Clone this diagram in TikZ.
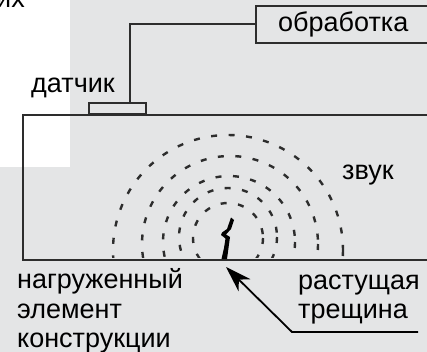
\documentclass[tikz,border=0pt]{standalone}
\usepackage{fontspec}
\setmainfont{Liberation Sans}
\usetikzlibrary{arrows.meta}
\definecolor{bg}{RGB}{228,229,230}
\definecolor{ink}{RGB}{45,45,45}
\begin{document}
\begin{tikzpicture}[x=1pt,y=-1pt,
  outline/.style={draw=ink, line width=2pt},
  lbl/.style={font=\fontsize{27}{29.5}\selectfont, inner sep=0pt, anchor=base west, text=black},
  wave/.style={draw=ink, line width=2.4pt, dash pattern=on 6pt off 11.5pt},
  leader/.style={draw=black, line width=1.8pt},
]
\useasboundingbox (0,0) rectangle (427,352);
\clip (0,0) rectangle (427,352);
% background panels
\fill[bg] (0,0) rectangle (427,352);
\fill[white] (0,0) rectangle (70,167);

% loaded structural member (open to the right)
\node[outline, anchor=north west, minimum width=440pt, minimum height=145pt, inner sep=0pt] (member) at (22,114) {};

% sensor and processing unit
\node[outline, minimum width=57pt, minimum height=11pt, inner sep=0pt] (sensor) at (117.5,108.5) {};
\node[outline, anchor=west, minimum width=200pt, minimum height=37pt, inner sep=0pt] (proc) at (255,24.5) {};
\coordinate (tap) at (130,103);
\draw[outline] (sensor.north -| tap) |- (proc.west);

% acoustic wave fronts around the crack
\begin{scope}
  \clip (22,100) rectangle (427,257);
  \draw[wave] (228,250) circle[radius=115];
  \draw[wave] (230,244) circle[radius=88];
  \draw[wave] (229,242) circle[radius=66];
  \draw[wave] (228,237) circle[radius=49];
  \draw[wave] (228,238) circle[radius=35];
\end{scope}

% crack, widening towards the surface it grows from
\fill[black]
  (231,217.5) -- (234,220) -- (231,229) -- (226,234.5) -- (230,237) -- (228.5,248) -- (227,259)
  -- (221.5,259) -- (224,248) -- (225.5,238.5) -- (221,235) -- (222,232.5) -- (227,229) -- cycle;

% leader to the crack
\coordinate (tip) at (226,267);
\coordinate (elbow) at (292,332);
\coordinate (tail) at (418,332);
\draw[leader, -{Stealth[length=26pt, width=17pt, inset=8pt]}] (tail) -- (elbow) -- (tip);

% labels
\node[lbl, anchor=base east] (frag) at (25,8) {их};
\node[lbl] (sensorlbl) at (31,93) {датчик};
\node[lbl] (proclbl) at (278,32) {обработка};
\node[lbl] (soundlbl) at (342,180) {звук};
\node[lbl] (member1) at (17,288) {нагруженный};
\node[lbl] (member2) at (17,318) {элемент};
\node[lbl] (member3) at (17,347) {конструкции};
\node[lbl] (crack1) at (298,289) {растущая};
\node[lbl] (crack2) at (298,318) {трещина};
\end{tikzpicture}
\end{document}
